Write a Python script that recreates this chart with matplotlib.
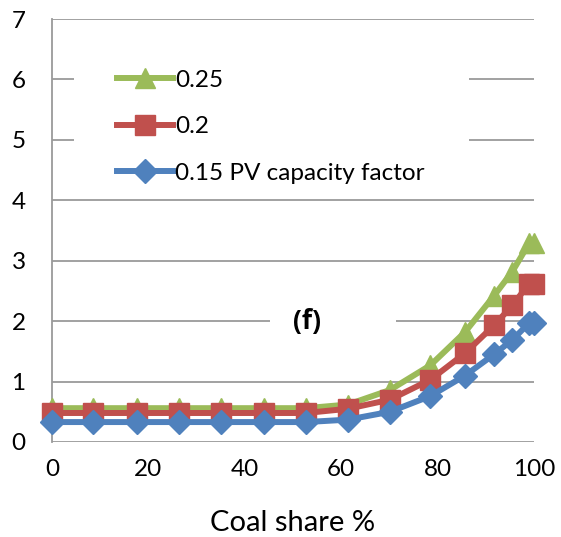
import matplotlib
matplotlib.use("Agg")
import matplotlib.pyplot as plt
from matplotlib.patches import Rectangle

plt.rcParams['font.family'] = ['Lato', 'DejaVu Sans']

# datos
coal_share = [0, 8.6, 17.6, 26.3, 35.0, 43.9, 52.7, 61.4, 70.1, 78.5, 85.7, 91.7, 95.5, 99.0, 100]
cf_025 = [0.56, 0.56, 0.56, 0.56, 0.56, 0.56, 0.56, 0.62, 0.86, 1.27, 1.82, 2.42, 2.82, 3.29, 3.29]
cf_020 = [0.48, 0.48, 0.48, 0.48, 0.48, 0.48, 0.48, 0.55, 0.70, 1.03, 1.47, 1.93, 2.26, 2.62, 2.62]
cf_015 = [0.33, 0.33, 0.33, 0.33, 0.33, 0.33, 0.33, 0.37, 0.50, 0.76, 1.10, 1.45, 1.69, 1.97, 1.97]
labels = ['0.25', '0.2', '0.15 PV capacity factor']
colores = ['#9BBB59', '#C0504D', '#4F81BD']

fig = plt.figure(figsize=(5.61, 5.37), dpi=100)
ax = fig.add_axes([52 / 561, 1 - 442 / 537, (534 - 52) / 561, (442 - 19) / 537])

ax.plot(coal_share, cf_025, color=colores[0], lw=4.3, marker='^', ms=14,
        label=labels[0], clip_on=False, zorder=3)
ax.plot(coal_share, cf_020, color=colores[1], lw=4.3, marker='s', ms=14,
        label=labels[1], clip_on=False, zorder=4)
ax.plot(coal_share, cf_015, color=colores[2], lw=4.3, marker='D', ms=12,
        label=labels[2], clip_on=False, zorder=5)

ax.set_xlim(0, 100)
ax.set_ylim(0, 7)
ax.set_xticks([0, 20, 40, 60, 80, 100])
ax.set_yticks(range(0, 8))
ax.yaxis.grid(True, color='#9a9a9a', lw=1.3)
ax.set_axisbelow(True)
for s in ['top', 'right', 'bottom']:
    ax.spines[s].set_visible(False)
ax.spines['left'].set_color('#9a9a9a')
ax.spines['left'].set_linewidth(1.3)
ax.tick_params(length=0, labelsize=17.5)
ax.tick_params(axis='y', pad=19)
ax.tick_params(axis='x', pad=12)
ax.set_xlabel('Coal share %', fontsize=21, labelpad=22)

# cajas blancas que tapan la rejilla (leyenda y etiqueta)
ax.add_patch(Rectangle((0.045, 0.59), 0.82, 0.36, transform=ax.transAxes,
                       facecolor='white', edgecolor='none', zorder=1))
ax.add_patch(Rectangle((0.453, 0.25), 0.26, 0.08, transform=ax.transAxes,
                       facecolor='white', edgecolor='none', zorder=1))

ax.text(0.53, 2, '(f)', fontsize=19, fontweight='bold', family=['Open Sans', 'DejaVu Sans'],
        ha='center', va='center', transform=ax.get_yaxis_transform(), zorder=2)

h, l = ax.get_legend_handles_labels()
leg = ax.legend(h, l, loc='center left', bbox_to_anchor=(0.135, 0.745), frameon=False,
                fontsize=17.5, handlelength=2.3, handletextpad=0.1, labelspacing=1.05,
                borderaxespad=0, borderpad=0)

fig.savefig('out.png', dpi=100)
